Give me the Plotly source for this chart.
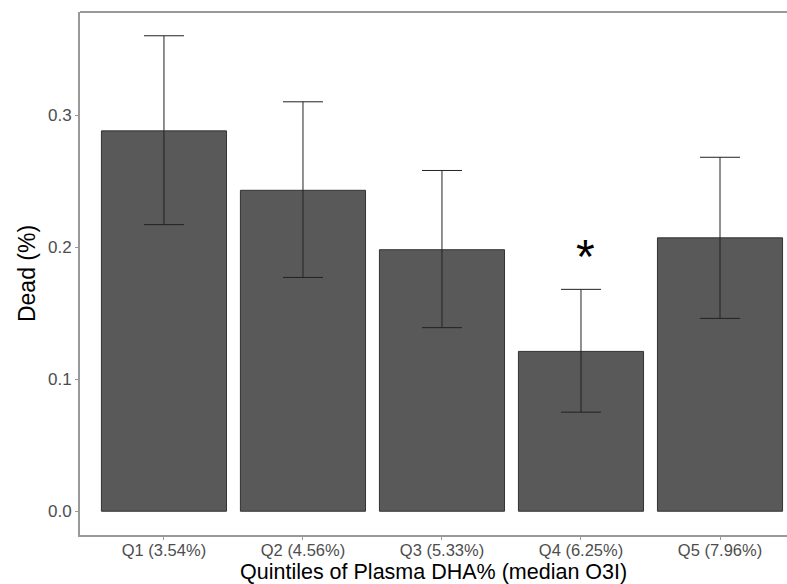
import plotly.graph_objects as go

categories = ["Q1 (3.54%)", "Q2 (4.56%)", "Q3 (5.33%)", "Q4 (6.25%)", "Q5 (7.96%)"]
dead = [0.288, 0.243, 0.198, 0.121, 0.207]
err_upper = [0.360, 0.310, 0.258, 0.168, 0.268]
err_lower = [0.217, 0.177, 0.139, 0.075, 0.146]
star_category = "Q4 (6.25%)"
star_y = 0.193

err_plus = [u - v for u, v in zip(err_upper, dead)]
err_minus = [v - l for v, l in zip(dead, err_lower)]

fig = go.Figure()
fig.add_trace(go.Bar(
    x=categories, y=dead, width=0.9,
    marker=dict(color="#595959", line=dict(color="#333333", width=1)),
    error_y=dict(type="data", symmetric=False, array=err_plus, arrayminus=err_minus,
                 color="#222222", thickness=1, width=20),
    showlegend=False,
))
fig.add_annotation(x=star_category, y=star_y, text="*", showarrow=False, xshift=5,
                   font=dict(size=48, color="black", family="Arial"), yanchor="middle")
fig.add_shape(type="line", xref="paper", yref="paper", x0=0, x1=1, y0=1, y1=1,
              line=dict(color="#999999", width=2))
fig.add_annotation(xref="paper", yref="paper", x=0.5, y=0, yshift=-37,
                   text="Quintiles of Plasma DHA% (median O3I)", showarrow=False,
                   yanchor="middle", xanchor="center",
                   font=dict(size=21.5, color="black"))

fig.update_layout(
    width=787, height=584,
    margin=dict(l=80, r=0, t=12, b=49),
    plot_bgcolor="white", paper_bgcolor="white",
    font=dict(family="Arial, Liberation Sans", color="#4d4d4d"),
    bargap=0.1,
    xaxis=dict(
        range=[-0.604, 4.482],
        showline=True, linecolor="#999999", linewidth=2,
        ticks="outside", ticklen=3, tickcolor="#999999",
        ticklabelstandoff=-4,
        tickfont=dict(size=16.5, color="#4d4d4d"),
        showgrid=False,
    ),
    yaxis=dict(
        range=[-0.018, 0.378],
        showline=True, linecolor="#999999", linewidth=2,
        ticks="outside", ticklen=3, tickcolor="#999999",
        tickvals=[0, 0.1, 0.2, 0.3], ticktext=["0.0", "0.1", "0.2", "0.3"],
        tickfont=dict(size=17, color="#4d4d4d"),
        title=dict(text="Dead (%)", font=dict(size=23, color="black"), standoff=6),
        showgrid=False, zeroline=False,
    ),
)

fig.write_html("out.html")
